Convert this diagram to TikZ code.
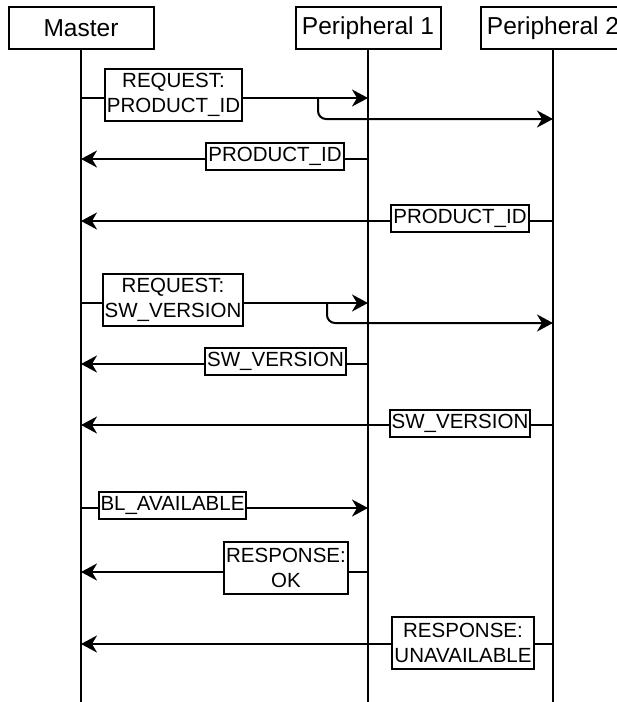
\documentclass[tikz,border=0pt]{standalone}
\usepackage{fontspec}
\setmainfont{Liberation Sans}
\usetikzlibrary{arrows.meta}

\begin{document}
\begin{tikzpicture}[x=1pt, y=-1pt,
    actor/.style={draw, line width=2pt, minimum width=145pt, minimum height=42pt, inner sep=0pt, font=\fontsize{24.5}{29}\selectfont},
    life/.style={line width=2pt},
    msg/.style={-{Stealth[length=16pt, width=17pt, inset=5pt]}, line width=2pt},
    lab/.style={draw, fill=white, line width=2pt, align=center, inner xsep=2pt, inner ysep=0pt, font=\fontsize{20.5}{25}\selectfont},
    one/.style={lab, minimum height=27pt},
    two/.style={lab, minimum height=52pt}
]
\useasboundingbox (0,0) rectangle (617,702);
\clip (0,0) rectangle (617,702);

\node[actor] (m) at (81,28) {Master};
\node[actor] (p1) at (368,28) {Peripheral 1};
\node[actor] (p2) at (553,28) {Peripheral 2};
\coordinate (bottom) at (0,702);

\foreach \a in {m,p1,p2} {
    \draw[life] (\a.south) -- (\a.south |- bottom);
}

\foreach \r/\y in {1/98, 2/159, 3/221, 4/303, 5/364, 6/425, 7/508, 8/572, 9/644} {
    \coordinate (m\r) at (81,\y);
    \coordinate (pa\r) at (368,\y);
    \coordinate (pb\r) at (553,\y);
}
\coordinate (s1) at (318,98);
\coordinate (t1) at (553,119);
\coordinate (s2) at (327,303);
\coordinate (t2) at (553,323);

\draw[msg] (m1) -- (pa1);
\draw[msg, rounded corners=8pt] (s1) |- (t1);
\draw[msg] (pa2) -- (m2);
\draw[msg] (pb3) -- (m3);
\draw[msg] (m4) -- (pa4);
\draw[msg, rounded corners=8pt] (s2) |- (t2);
\draw[msg] (pa5) -- (m5);
\draw[msg] (pb6) -- (m6);
\draw[msg] (m7) -- (pa7);
\draw[msg] (pa8) -- (m8);
\draw[msg] (pb9) -- (m9);

\node[two] (q1) at (173.5,94.5) {REQUEST:\\PRODUCT\_ID};
\node[one] (r1) at (275,156.5) {PRODUCT\_ID};
\node[one] (r2) at (460,218) {PRODUCT\_ID};
\node[two] (q2) at (173,300) {REQUEST:\\SW\_VERSION};
\node[one] (r3) at (275.5,361.5) {SW\_VERSION};
\node[one] (r4) at (460,423) {SW\_VERSION};
\node[one] (q3) at (172.5,505) {BL\_AVAILABLE};
\node[two] (r5) at (286,568) {RESPONSE:\\OK};
\node[two] (r6) at (463,642.5) {RESPONSE:\\UNAVAILABLE};
\end{tikzpicture}
\end{document}
